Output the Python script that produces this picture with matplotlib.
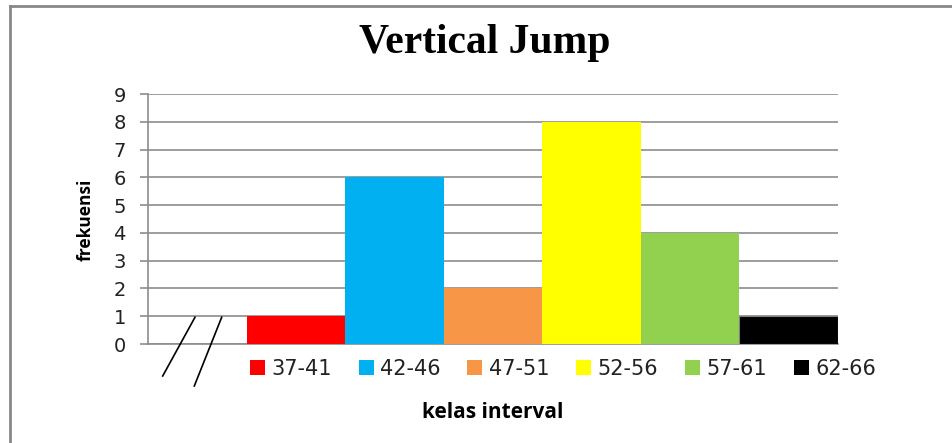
import matplotlib
matplotlib.use("Agg")
import matplotlib.pyplot as plt
from matplotlib.patches import Patch
from matplotlib.lines import Line2D
import numpy as np

# ---- data ----
intervals = ["37-41", "42-46", "47-51", "52-56", "57-61", "62-66"]
frequencies = [1, 6, 2, 8, 4, 1]
bar_colors = ["#FF0000", "#00B0F0", "#F79646", "#FFFF00", "#92D050", "#000000"]
y_ticks = [0, 1, 2, 3, 4, 5, 6, 7, 8, 9]
title = "Vertical Jump"
x_label = "kelas interval"
y_label = "frekuensi"

W, H = 952, 443
fig = plt.figure(figsize=(W / 100, H / 100), dpi=100)
fig.patch.set_facecolor("white")

ax = fig.add_axes([148 / W, (H - 344) / H, 690 / W, 250 / H])

# first slot left empty (axis break), bars occupy slots 1..6
positions = np.arange(1, len(intervals) + 1)
bars = ax.bar(positions, frequencies, width=1.0, color=bar_colors,
              edgecolor="none", zorder=3)
bars[-1].set_edgecolor("#808080")
bars[-1].set_linewidth(0.8)

ax.set_xlim(-0.5, len(intervals) + 0.5)
ax.set_ylim(0, 9)
ax.set_yticks(y_ticks)
ax.set_xticks([])
ax.yaxis.grid(True, color="#8C8C8C", linewidth=1.2, zorder=0)
ax.set_axisbelow(True)

for s in ["top", "right"]:
    ax.spines[s].set_visible(False)
for s in ["left", "bottom"]:
    ax.spines[s].set_color("#8C8C8C")
    ax.spines[s].set_linewidth(1.2)

ax.tick_params(axis="y", length=6, width=1.2, color="#8C8C8C", pad=10,
               labelsize=14, labelcolor="#222222")
for lbl in ax.get_yticklabels():
    lbl.set_fontfamily("DejaVu Sans")

# axis-break marks
brk_kw = dict(transform=ax.transAxes, clip_on=False, color="black", lw=1.2, zorder=5)
ax.plot([0.0213, 0.0681], [-0.128, 0.107], **brk_kw)
ax.plot([0.0671, 0.1068], [-0.168, 0.107], **brk_kw)

# title
fig.text(485 / W, (H - 43) / H, title, ha="center", va="center",
         fontfamily="Liberation Serif", fontweight="bold", fontsize=30)

# axis labels
fig.text(86 / W, (H - 220) / H, y_label, rotation=90, ha="center", va="center",
         fontfamily="Open Sans", fontweight="bold", fontsize=12.5)
fig.text(493 / W, (H - 413) / H, x_label, ha="center", va="center",
         fontfamily="Open Sans", fontweight="bold", fontsize=15)

# legend
handles = [Patch(facecolor=c, edgecolor="none") for c in bar_colors]
leg = fig.legend(handles, intervals, loc="center", ncol=len(intervals),
                 bbox_to_anchor=(563 / W, (H - 369) / H), frameon=False,
                 prop={"family": "DejaVu Sans", "size": 15},
                 handlelength=0.72, handleheight=0.72, handletextpad=0.3,
                 columnspacing=1.3, borderaxespad=0)
for t in leg.get_texts():
    t.set_color("#222222")

# outer border (top and left visible)
fig.add_artist(Line2D([10 / W, 1.0], [(H - 6) / H, (H - 6) / H],
                      transform=fig.transFigure, color="#888888", lw=2))
fig.add_artist(Line2D([10 / W, 10 / W], [0.0, (H - 6) / H],
                      transform=fig.transFigure, color="#888888", lw=2))

fig.savefig("out.png", dpi=100, facecolor="white")
